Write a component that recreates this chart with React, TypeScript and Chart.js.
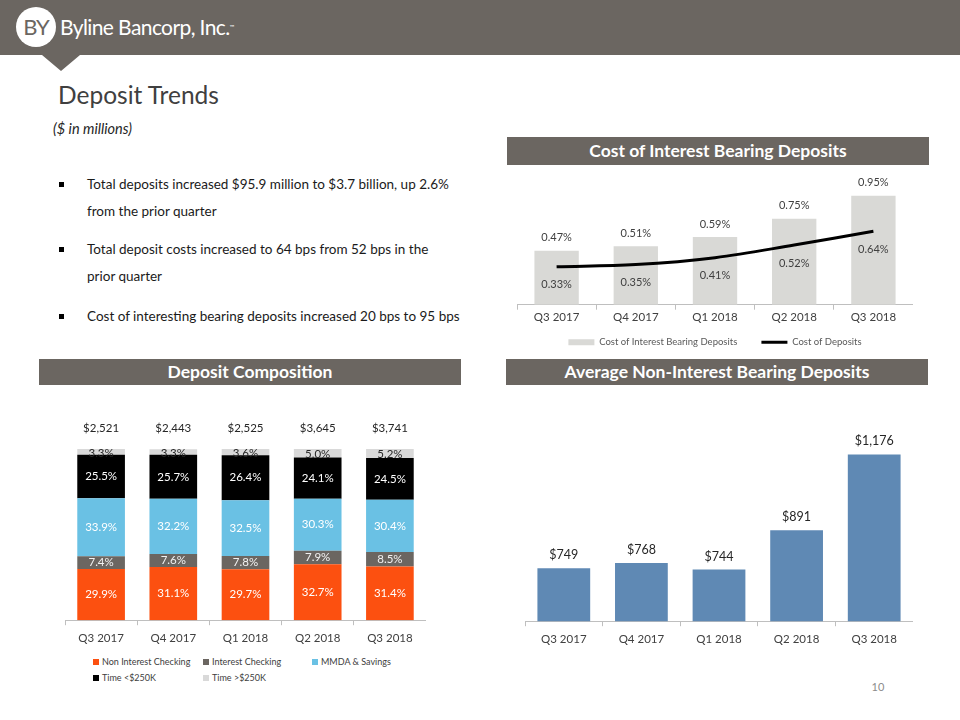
import React, { useEffect, useRef } from "react";
import { Chart, registerables } from "chart.js";
Chart.register(...registerables);

const FONT = "Lato, 'Open Sans', sans-serif";

const quarters = ["Q3 2017", "Q4 2017", "Q1 2018", "Q2 2018", "Q3 2018"];

// Cost of Interest Bearing Deposits (%)
const costInterestBearing = [0.47, 0.51, 0.59, 0.75, 0.95];
const costOfDeposits = [0.33, 0.35, 0.41, 0.52, 0.64];

// Deposit Composition (% of total)
const nonInterestChecking = [29.9, 31.1, 29.7, 32.7, 31.4];
const interestChecking = [7.4, 7.6, 7.8, 7.9, 8.5];
const mmdaSavings = [33.9, 32.2, 32.5, 30.3, 30.4];
const timeUnder250 = [25.5, 25.7, 26.4, 24.1, 24.5];
const timeOver250 = [3.3, 3.3, 3.6, 5.0, 5.2];
const totalDeposits = [2521, 2443, 2525, 3645, 3741];

// Average Non-Interest Bearing Deposits ($M)
const avgNonInterestBearing = [749, 768, 744, 891, 1176];

const compositionLabels = [
  "Non Interest Checking",
  "Interest Checking",
  "MMDA & Savings",
  "Time <$250K",
  "Time >$250K",
];
const compositionColors = ["#fc5010", "#6b6661", "#6ac1e4", "#000000", "#d9d9d9"];
const compositionTextColors = ["#ffffff", "#f2f2f2", "#ffffff", "#ffffff", "#262626"];

const HEADER = "#6b6661";

const fmtMoney = (v: number) => "$" + v.toLocaleString("en-US");

export default function App() {
  const c1 = useRef<HTMLCanvasElement>(null);
  const c2 = useRef<HTMLCanvasElement>(null);
  const c3 = useRef<HTMLCanvasElement>(null);

  useEffect(() => {
    document.body.style.margin = "0";
    const charts: Chart[] = [];

    const xAxis = (pad: number) => ({
      grid: { display: true, drawOnChartArea: false, tickLength: 5, color: "#bfbfbf", offset: true },
      border: { display: true, color: "#bfbfbf" },
      ticks: { color: "#404040", font: { family: FONT, size: 11.5 }, padding: pad },
    });

    // Chart 1
    const labels1 = {
      id: "labels1",
      afterDatasetsDraw(chart: any) {
        const ctx = chart.ctx;
        ctx.save();
        ctx.font = `11px ${FONT}`;
        ctx.fillStyle = "#404040";
        ctx.textAlign = "center";
        ctx.textBaseline = "middle";
        chart.getDatasetMeta(0).data.forEach((el: any, i: number) => {
          ctx.fillText(costInterestBearing[i].toFixed(2) + "%", el.x, el.y - 13);
        });
        chart.getDatasetMeta(1).data.forEach((el: any, i: number) => {
          ctx.fillText(costOfDeposits[i].toFixed(2) + "%", el.x, el.y + 18);
        });
        ctx.restore();
      },
    };
    charts.push(
      new Chart(c1.current!, {
        type: "bar",
        data: {
          labels: quarters,
          datasets: [
            {
              type: "bar",
              label: "Cost of Interest Bearing Deposits",
              data: costInterestBearing,
              backgroundColor: "#d9d9d6",
              borderWidth: 0,
              categoryPercentage: 1,
              barPercentage: 0.56,
              pointStyle: "rect",
              order: 1,
            } as any,
            {
              type: "line",
              label: "Cost of Deposits",
              data: costOfDeposits,
              borderColor: "#000000",
              backgroundColor: "#000000",
              borderWidth: 3,
              pointRadius: 0,
              pointStyle: "line",
              pointBorderWidth: 3,
              pointBorderColor: "#000000",
              tension: 0.35,
              order: 0,
            } as any,
          ],
        },
        options: {
          responsive: false,
          animation: false,
          layout: { padding: { top: 23, bottom: 0 } },
          scales: {
            x: xAxis(1) as any,
            y: { display: false, min: 0, max: 1 },
          },
          plugins: {
            legend: {
              position: "bottom",
              labels: {
                usePointStyle: true,
                pointStyleWidth: 26,
                boxHeight: 6,
                color: "#595959",
                font: { family: FONT, size: 9.5 },
                padding: 12,
                sort: (a: any, b: any) => a.datasetIndex - b.datasetIndex,
                generateLabels: (chart: any) => {
                  const items = Chart.defaults.plugins.legend.labels.generateLabels(chart);
                  items.forEach((it: any) => {
                    if (it.datasetIndex === 0) it.text = it.text + "     ";
                  });
                  return items;
                },
              },
            },
            tooltip: { enabled: false },
          },
        },
        plugins: [labels1],
      })
    );

    // Chart 2
    const labels2 = {
      id: "labels2",
      afterDatasetsDraw(chart: any) {
        const ctx = chart.ctx;
        ctx.save();
        ctx.textAlign = "center";
        ctx.textBaseline = "middle";
        ctx.font = `11.5px ${FONT}`;
        chart.data.datasets.forEach((ds: any, di: number) => {
          const meta = chart.getDatasetMeta(di);
          ctx.fillStyle = compositionTextColors[di];
          meta.data.forEach((el: any, i: number) => {
            const y = (el.y + el.base) / 2 + (di === 4 ? 1 : 0);
            ctx.fillText(ds.data[i].toFixed(1) + "%", el.x, y);
          });
        });
        const top = chart.getDatasetMeta(4);
        ctx.fillStyle = "#262626";
        ctx.font = `11.5px ${FONT}`;
        top.data.forEach((el: any, i: number) => {
          ctx.fillText(fmtMoney(totalDeposits[i]), el.x, chart.chartArea.top - 21);
        });
        ctx.restore();
      },
    };
    const compData = [nonInterestChecking, interestChecking, mmdaSavings, timeUnder250, timeOver250];
    charts.push(
      new Chart(c2.current!, {
        type: "bar",
        data: {
          labels: quarters,
          datasets: compData.map((d, i) => ({
            label: compositionLabels[i],
            data: d,
            backgroundColor: compositionColors[i],
            borderWidth: 0,
            categoryPercentage: 1,
            barPercentage: 0.66,
          })),
        },
        options: {
          responsive: false,
          animation: false,
          layout: { padding: { top: 32 } },
          scales: {
            x: { ...(xAxis(6) as any), stacked: true },
            y: { display: false, stacked: true, min: 0, max: 100 },
          },
          plugins: { legend: { display: false }, tooltip: { enabled: false } },
        },
        plugins: [labels2],
      })
    );

    // Chart 3
    const labels3 = {
      id: "labels3",
      afterDatasetsDraw(chart: any) {
        const ctx = chart.ctx;
        ctx.save();
        ctx.textAlign = "center";
        ctx.textBaseline = "middle";
        ctx.font = `12.5px ${FONT}`;
        ctx.fillStyle = "#262626";
        chart.getDatasetMeta(0).data.forEach((el: any, i: number) => {
          ctx.fillText(fmtMoney(avgNonInterestBearing[i]), el.x, el.y - 13);
        });
        ctx.restore();
      },
    };
    charts.push(
      new Chart(c3.current!, {
        type: "bar",
        data: {
          labels: quarters,
          datasets: [
            {
              label: "Average Non-Interest Bearing Deposits",
              data: avgNonInterestBearing,
              backgroundColor: "#5f89b4",
              borderWidth: 0,
              categoryPercentage: 1,
              barPercentage: 0.68,
            },
          ],
        },
        options: {
          responsive: false,
          animation: false,
          layout: { padding: { top: 26 } },
          scales: {
            x: xAxis(6) as any,
            y: { display: false, min: 550, max: 1200 },
          },
          plugins: { legend: { display: false }, tooltip: { enabled: false } },
        },
        plugins: [labels3],
      })
    );

    return () => charts.forEach((c) => c.destroy());
  }, []);

  const abs = (s: React.CSSProperties): React.CSSProperties => ({ position: "absolute", ...s });
  const sectionBox = (left: number, top: number, h: number, text: string) => (
    <div
      style={abs({
        left,
        top,
        width: 422,
        height: h,
        background: HEADER,
        color: "#ffffff",
        fontWeight: 700,
        fontSize: 17.5,
        lineHeight: h + "px",
        textAlign: "center",
        whiteSpace: "nowrap",
      })}
    >
      {text}
    </div>
  );

  const bullets = [
    { top: 171, lines: ["Total deposits increased $95.9 million to $3.7 billion, up 2.6%", "from the prior quarter"] },
    { top: 236, lines: ["Total deposit costs increased to 64 bps from 52 bps in the", "prior quarter"] },
    { top: 303, lines: ["Cost of interesting bearing deposits increased 20 bps to 95 bps"] },
  ];

  const legendPos = [
    { left: 93, top: 656 },
    { left: 203, top: 656 },
    { left: 312, top: 656 },
    { left: 93, top: 672 },
    { left: 203, top: 672 },
  ];

  return (
    <div
      style={{
        position: "relative",
        width: 960,
        height: 720,
        background: "#ffffff",
        overflow: "hidden",
        fontFamily: FONT,
        color: "#262626",
      }}
    >
      {/* Header band */}
      <div style={abs({ left: 0, top: 0, width: 960, height: 55, background: HEADER })} />
      <div
        style={abs({
          left: 42,
          top: 55,
          width: 0,
          height: 0,
          borderLeft: "19px solid transparent",
          borderRight: "19px solid transparent",
          borderTop: "16px solid " + HEADER,
        })}
      />
      <div
        style={abs({
          left: 16,
          top: 7,
          width: 40,
          height: 40,
          borderRadius: 20,
          background: "#ffffff",
          color: HEADER,
          fontSize: 22,
          lineHeight: "40px",
          textAlign: "center",
          letterSpacing: -1,
        })}
      >
        BY
      </div>
      <div
        style={abs({
          left: 60,
          top: 13,
          color: "#ffffff",
          fontSize: 21,
          lineHeight: "28px",
          letterSpacing: -0.6,
          whiteSpace: "nowrap",
        })}
      >
        Byline Bancorp, Inc.<span style={{ fontSize: 6, verticalAlign: "top" }}>™</span>
      </div>

      {/* Title */}
      <div style={abs({ left: 58, top: 80, fontSize: 24.5, lineHeight: "30px", color: "#404040", whiteSpace: "nowrap" })}>
        Deposit Trends
      </div>
      <div
        style={abs({
          left: 53,
          top: 121,
          fontSize: 14.5,
          lineHeight: "16px",
          fontStyle: "italic",
          color: "#262626",
          whiteSpace: "nowrap",
        })}
      >
        ($ in millions)
      </div>

      {/* Bullets */}
      {bullets.map((b, i) => (
        <div key={i}>
          <div style={abs({ left: 59, top: b.top + 11, width: 5, height: 5, background: "#000" })} />
          <div style={abs({ left: 87, top: b.top, fontSize: 13.5, lineHeight: "27px", whiteSpace: "nowrap", color: "#1a1a1a" })}>
            {b.lines.map((l, j) => (
              <div key={j}>{l}</div>
            ))}
          </div>
        </div>
      ))}

      {/* Section headers */}
      {sectionBox(507, 137, 28, "Cost of Interest Bearing Deposits")}
      {sectionBox(39, 359, 26, "Deposit Composition")}
      {sectionBox(506, 359, 26, "Average Non-Interest Bearing Deposits")}

      {/* Charts */}
      <canvas ref={c1} width={396} height={190} style={abs({ left: 517, top: 167 })} />
      <canvas ref={c2} width={361} height={234} style={abs({ left: 65, top: 417 })} />
      <canvas ref={c3} width={388} height={230} style={abs({ left: 525, top: 422 })} />

      {/* Composition legend */}
      {compositionLabels.map((l, i) => (
        <div
          key={l}
          style={abs({
            left: legendPos[i].left,
            top: legendPos[i].top,
            height: 12,
            display: "flex",
            alignItems: "center",
            whiteSpace: "nowrap",
          })}
        >
          <span
            style={{
              display: "inline-block",
              width: 6,
              height: 6,
              background: compositionColors[i],
              marginRight: 3,
            }}
          />
          <span style={{ fontSize: 9, lineHeight: "12px", color: "#404040" }}>{l}</span>
        </div>
      ))}

      {/* Page number */}
      <div style={abs({ left: 866, top: 680, width: 24, textAlign: "center", fontSize: 11, color: "#8c8c8c" })}>10</div>
    </div>
  );
}
